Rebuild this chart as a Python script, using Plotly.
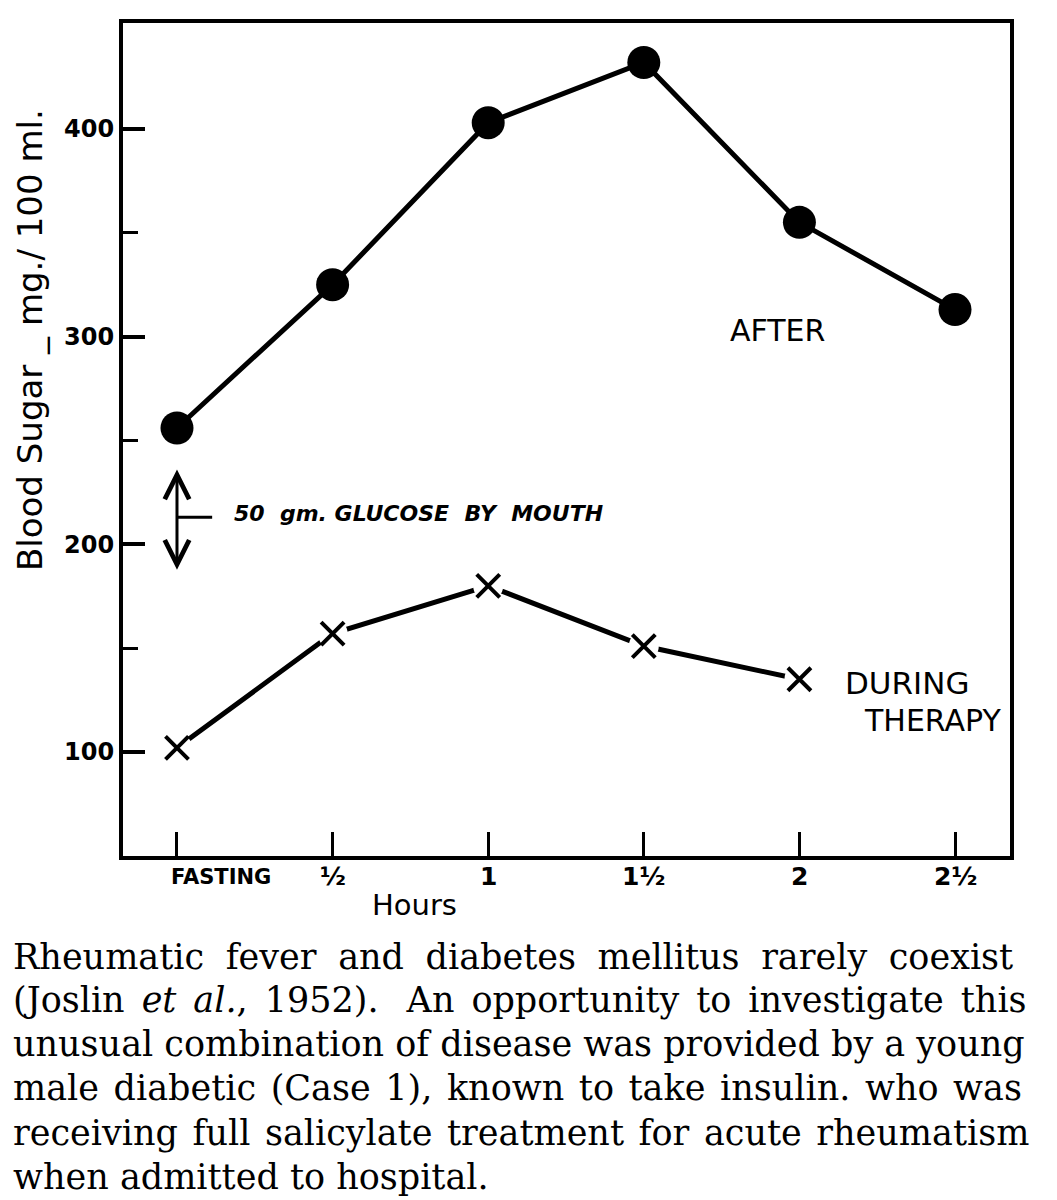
import plotly.graph_objects as go

# hours after glucose, with the printed tick labels
hours = [0, 0.5, 1, 1.5, 2, 2.5]
hour_labels = ["FASTING", "½", "1", "1½", "2", "2½"]

# blood sugar, mg./100 ml.
after = [256, 325, 403, 432, 355, 313]
during_hours = [0, 0.5, 1, 1.5, 2]
during = [102, 157, 180, 151, 135]

y_ticks = [100, 200, 300, 400]
y_minor = [150, 250, 350]

caption_lines = [
    "Rheumatic fever and diabetes mellitus rarely coexist",
    "(Joslin <i>et al.</i>, 1952).\u00a0 An opportunity to investigate this",
    "unusual combination of disease was provided by a young",
    "male diabetic (Case 1), known to take insulin. who was",
    "receiving full salicylate treatment for acute rheumatism",
    "when admitted to hospital.",
]
# extra word gap per caption line, to imitate the justified setting
caption_pad = ["\u2009\u200a", "\u2006", "", "\u200a", "\u200a", ""]

W, H = 1057, 1200
L, R, T, B = 123, 1010, 23, 856


def px(x):
    return (x - L) / (R - L)


def py(y):
    return (B - y) / (B - T)


SANS = "DejaVu Sans, sans-serif"

fig = go.Figure()

fig.add_trace(go.Scatter(
    x=hours, y=after, mode="lines+markers",
    line=dict(color="black", width=5),
    marker=dict(symbol="circle", size=33, color="black"),
    showlegend=False, hoverinfo="skip"
))
fig.add_trace(go.Scatter(
    x=during_hours, y=during, mode="lines",
    line=dict(color="black", width=5),
    showlegend=False, hoverinfo="skip"
))
# white pads so the line stops short of each cross, as drawn
fig.add_trace(go.Scatter(
    x=during_hours, y=during, mode="markers",
    marker=dict(symbol="circle", size=30, color="white"),
    showlegend=False, hoverinfo="skip"
))
fig.add_trace(go.Scatter(
    x=during_hours, y=during, mode="markers",
    marker=dict(symbol="x-thin", size=23, line=dict(color="black", width=4)),
    showlegend=False, hoverinfo="skip"
))

ann = []
# x tick labels
for h, lab in zip(hours, hour_labels):
    first = lab == "FASTING"
    ann.append(dict(
        x=h, y=py(877), xref="x", yref="paper", text=lab,
        showarrow=False, xanchor="left" if first else "center", yanchor="middle",
        xshift=-8 if first else 0,
        font=dict(family=SANS, size=21 if first else 25, color="black", weight="bold")
    ))
ann.append(dict(x=px(414), y=py(905), xref="paper", yref="paper", text="Hours",
                showarrow=False, xanchor="center", yanchor="middle",
                font=dict(family=SANS, size=29, color="black")))
ann.append(dict(x=px(30), y=py(340), xref="paper", yref="paper",
                text="Blood Sugar _ mg./ 100 ml.", textangle=-90, showarrow=False,
                xanchor="center", yanchor="middle",
                font=dict(family=SANS, size=34, color="black")))
ann.append(dict(x=1.93, y=303, text="AFTER", showarrow=False,
                xanchor="center", yanchor="middle",
                font=dict(family=SANS, size=30, color="black")))
ann.append(dict(x=2.14, y=133, text="DURING", showarrow=False,
                xanchor="left", yanchor="middle",
                font=dict(family=SANS, size=31, color="black")))
ann.append(dict(x=2.2, y=115, text="THERAPY", showarrow=False,
                xanchor="left", yanchor="middle",
                font=dict(family=SANS, size=30, color="black")))
# glucose arrow
ann.append(dict(x=0, y=236, ax=0, ay=187, axref="x", ayref="y", text="",
                showarrow=True, arrowhead=5, startarrowhead=5, arrowside="end+start",
                arrowwidth=3, arrowsize=1.6, startarrowsize=1.6, arrowcolor="black"))
ann.append(dict(x=0.177, y=215, text="<i>50  gm. GLUCOSE  BY  MOUTH</i>",
                showarrow=False, xanchor="left", yanchor="middle",
                font=dict(family=SANS, size=22, color="black", weight="bold")))

caption_y = [957, 1000, 1044, 1088, 1133, 1177]
for line, pad, yy in zip(caption_lines, caption_pad, caption_y):
    ann.append(dict(x=px(11), y=py(yy), xref="paper", yref="paper",
                    text=line.replace(" ", " " + pad),
                    showarrow=False, xanchor="left", yanchor="middle",
                    font=dict(family="DejaVu Serif, serif", size=35, color="black")))

fig.update_layout(
    width=W, height=H,
    margin=dict(l=L, r=W - R, t=T, b=H - B),
    paper_bgcolor="white", plot_bgcolor="white",
    annotations=ann,
    shapes=[dict(type="line", xref="x", yref="y", x0=0, x1=0.113, y0=213, y1=213,
                 line=dict(color="black", width=3))],
)
fig.update_xaxes(
    range=[-0.1735, 2.6767], tickvals=hours, showticklabels=False,
    ticks="inside", ticklen=24, tickwidth=3, tickcolor="black",
    showgrid=False, zeroline=False,
    showline=True, mirror=True, linecolor="black", linewidth=4
)
fig.update_yaxes(
    range=[49.9, 451], tickvals=y_ticks,
    ticks="inside", ticklen=22, tickwidth=4, tickcolor="black",
    tickfont=dict(family=SANS, size=24, color="black", weight="bold"),
    minor=dict(tickvals=y_minor, ticks="inside", ticklen=15, tickwidth=3, tickcolor="black"),
    showgrid=False, zeroline=False,
    showline=True, mirror=True, linecolor="black", linewidth=4
)

fig.write_html("out.html", config={"displayModeBar": False},
               post_script="document.body.style.margin='0';")
